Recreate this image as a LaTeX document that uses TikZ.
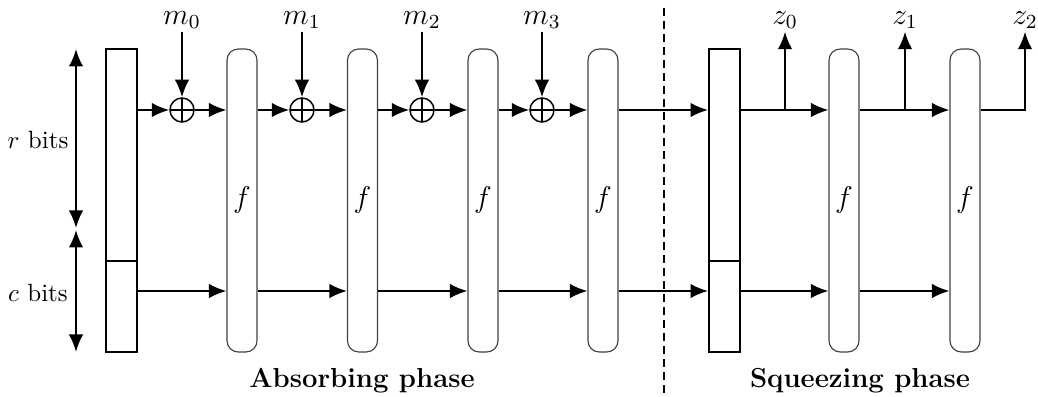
\documentclass[tikz,border=0pt]{standalone}
\usetikzlibrary{arrows.meta,calc}
\begin{document}
\begin{tikzpicture}[x=0.4pt,y=-0.4pt,
 tip/.tip={Latex[length=7pt,width=5.8pt]},
 arr/.style={line width=0.8pt,-tip},
 ln/.style={line width=0.8pt},
 statebox/.style={draw,line width=0.8pt,minimum width=12.4pt,minimum height=121.2pt,inner sep=0pt},
 fbox/.style={draw=black!75,line width=0.45pt,rounded corners=4.5pt,minimum width=12pt,minimum height=121.2pt,inner sep=0pt,font=\large},
 xorn/.style={draw,circle,line width=0.6pt,minimum size=9.6pt,inner sep=0pt,
   path picture={\draw[line width=0.6pt] (path picture bounding box.north) -- (path picture bounding box.south)
     (path picture bounding box.west) -- (path picture bounding box.east);}},
 lab/.style={font=\fontsize{12}{14}\selectfont,inner sep=1pt},
 side/.style={font=\fontsize{10}{12}\selectfont},
 title/.style={font=\bfseries\fontsize{11}{13}\selectfont},
 dashline/.style={line width=0.6pt,dash pattern=on 3.2pt off 2pt}]
\useasboundingbox (0,0) rectangle (1038,397);
% state boxes
\node[statebox] (s1) at (121.5,200.5) {};
\node[statebox] (s2) at (724.5,200.5) {};
\draw[ln] (s1.west |- 0,261) -- (s1.east |- 0,261);
\draw[ln] (s2.west |- 0,261) -- (s2.east |- 0,261);
% f boxes
\node[fbox] (f1) at (242,200.5) {$f$};
\node[fbox] (f2) at (362.5,200.5) {$f$};
\node[fbox] (f3) at (483,200.5) {$f$};
\node[fbox] (f4) at (603,200.5) {$f$};
\node[fbox] (f5) at (844,200.5) {$f$};
\node[fbox] (f6) at (965,200.5) {$f$};
% rows
\coordinate (rt) at (0,110);
\coordinate (rb) at (0,291);
% xors
\node[xorn] (x0) at (182,110) {};
\node[xorn] (x1) at (302,110) {};
\node[xorn] (x2) at (422,110) {};
\node[xorn] (x3) at (542,110) {};
% message labels
\node[lab] (m0) at (182,20) {$m_0$};
\node[lab] (m1) at (302,20) {$m_1$};
\node[lab] (m2) at (422,20) {$m_2$};
\node[lab] (m3) at (542,20) {$m_3$};
\draw[arr] (m0) -- (x0);
\draw[arr] (m1) -- (x1);
\draw[arr] (m2) -- (x2);
\draw[arr] (m3) -- (x3);
% top row absorbing
\draw[arr] (s1.east |- rt) -- (x0);
\draw[arr] (x0) -- (f1.west |- rt);
\draw[arr] (f1.east |- rt) -- (x1);
\draw[arr] (x1) -- (f2.west |- rt);
\draw[arr] (f2.east |- rt) -- (x2);
\draw[arr] (x2) -- (f3.west |- rt);
\draw[arr] (f3.east |- rt) -- (x3);
\draw[arr] (x3) -- (f4.west |- rt);
\draw[arr] (f4.east |- rt) -- (s2.west |- rt);
% bottom row
\draw[arr] (s1.east |- rb) -- (f1.west |- rb);
\draw[arr] (f1.east |- rb) -- (f2.west |- rb);
\draw[arr] (f2.east |- rb) -- (f3.west |- rb);
\draw[arr] (f3.east |- rb) -- (f4.west |- rb);
\draw[arr] (f4.east |- rb) -- (s2.west |- rb);
\draw[arr] (s2.east |- rb) -- (f5.west |- rb);
\draw[arr] (f5.east |- rb) -- (f6.west |- rb);
% squeezing top row
\node[lab] (z0) at (785,20) {$z_0$};
\node[lab] (z1) at (905,20) {$z_1$};
\node[lab] (z2) at (1025,20) {$z_2$};
\coordinate (b0) at (785,110);
\coordinate (b1) at (905,110);
\draw[arr] (s2.east |- rt) -- (f5.west |- rt);
\draw[arr] (f5.east |- rt) -- (f6.west |- rt);
\draw[arr] (b0) -- (z0);
\draw[arr] (b1) -- (z1);
\draw[arr] (f6.east |- rt) -| (z2);
% dashed separator
\coordinate (dt) at (664,8);
\coordinate (db) at (664,397);
\draw[dashline] (dt) -- (db);
% side arrows
\coordinate (ra) at (76,49);
\coordinate (rz) at (76,228);
\coordinate (ca) at (76,230);
\coordinate (cz) at (76,352);
\draw[line width=0.8pt,tip-tip] (ra) -- (rz);
\draw[line width=0.8pt,tip-tip] (ca) -- (cz);
\node[side] (rl) at (38,140) {$r$ bits};
\node[side] (cl) at (38,293) {$c$ bits};
% titles
\node[title] (ta) at (362,381) {Absorbing phase};
\node[title] (ts) at (860,381) {Squeezing phase};
\end{tikzpicture}
\end{document}
